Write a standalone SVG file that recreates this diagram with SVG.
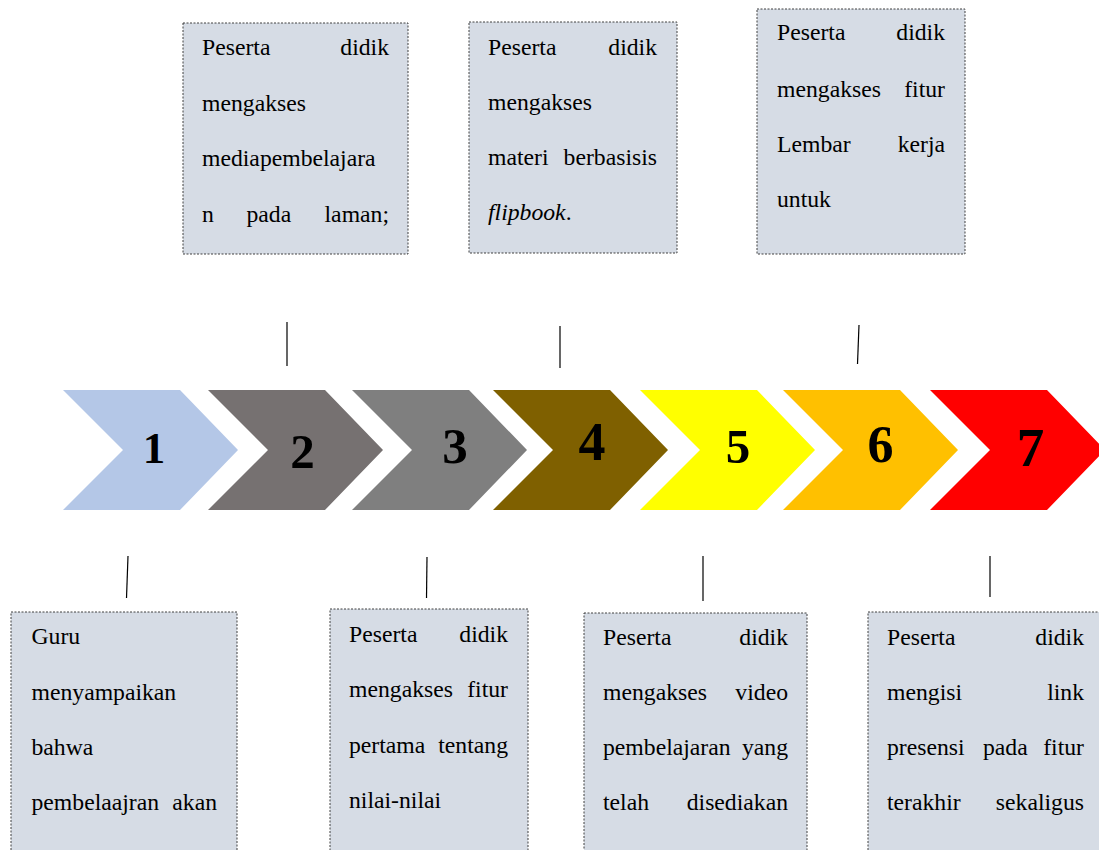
<svg xmlns="http://www.w3.org/2000/svg" width="1099" height="850" viewBox="0 0 1099 850">
<style>
.box{fill:#d6dce5;stroke:#404040;stroke-width:1;stroke-dasharray:2 1.5}
.t{font-family:"Liberation Serif","Times New Roman",serif;font-size:23.7px;fill:#000}
.e{text-anchor:end}
.n{font-family:"Liberation Serif","Times New Roman",serif;font-weight:bold;fill:#000;text-anchor:middle}
.ln{stroke:#000;stroke-width:1.2;fill:none}
</style>
<rect width="1099" height="850" fill="#fff"/>
<g id="connectors">
<line class="ln" x1="287" y1="322" x2="287" y2="366"/>
<line class="ln" x1="560" y1="326" x2="560" y2="368"/>
<line class="ln" x1="859" y1="325" x2="857.5" y2="364"/>
<line class="ln" x1="128" y1="556" x2="126.5" y2="598"/>
<line class="ln" x1="427" y1="557" x2="426.5" y2="598"/>
<line class="ln" x1="703" y1="556" x2="703" y2="601"/>
<line class="ln" x1="990" y1="556" x2="990" y2="597"/>
</g>
<g id="step1"><polygon fill="#b4c7e7" points="63,390 180,390 238,450 180,510 63,510 123,450"/><text class="n" x="154" y="463" font-size="45">1</text></g>
<g id="step2"><polygon fill="#767171" points="208,390 325,390 383,450 325,510 208,510 268,450"/><text class="n" x="302.5" y="468" font-size="49">2</text></g>
<g id="step3"><polygon fill="#7f7f7f" points="352,390 469,390 527,450 469,510 352,510 412,450"/><text class="n" x="455" y="463" font-size="51">3</text></g>
<g id="step4"><polygon fill="#7f6000" points="493,390 610,390 668,450 610,510 493,510 553,450"/><text class="n" x="592" y="460" font-size="54">4</text></g>
<g id="step5"><polygon fill="#ffff00" points="640,390 757,390 815,450 757,510 640,510 700,450"/><text class="n" x="738" y="463" font-size="49">5</text></g>
<g id="step6"><polygon fill="#ffc000" points="783,390 900,390 958,450 900,510 783,510 843,450"/><text class="n" x="880.5" y="462" font-size="52">6</text></g>
<g id="step7"><polygon fill="#ff0000" points="930,390 1047,390 1105,450 1047,510 930,510 990,450"/><text class="n" x="1030.5" y="466" font-size="55">7</text></g>

<g id="box-top1">
<rect class="box" x="183" y="23" width="225" height="231"/>
<text class="t" x="202" y="55">Peserta</text><text class="t e" x="389" y="55">didik</text>
<text class="t" x="202" y="110.5">mengakses</text>
<text class="t" x="202" y="166">mediapembelajara</text>
<text class="t" x="202" y="221.5">n</text><text class="t" x="246.5" y="221.5">pada</text><text class="t e" x="389" y="221.5">laman;</text>
</g>
<g id="box-top2">
<rect class="box" x="469" y="22" width="208" height="231"/>
<text class="t" x="488" y="54.5">Peserta</text><text class="t e" x="657" y="54.5">didik</text>
<text class="t" x="488" y="110">mengakses</text>
<text class="t" x="488" y="165">materi</text><text class="t e" x="657" y="165">berbasisis</text>
<text class="t" x="488" y="220"><tspan font-style="italic">flipbook</tspan>.</text>
</g>
<g id="box-top3">
<rect class="box" x="757" y="9" width="208" height="245"/>
<text class="t" x="777" y="40">Peserta</text><text class="t e" x="945" y="40">didik</text>
<text class="t" x="777" y="96.5">mengakses</text><text class="t e" x="945" y="96.5">fitur</text>
<text class="t" x="777" y="151.5">Lembar</text><text class="t e" x="945" y="151.5">kerja</text>
<text class="t" x="777" y="206.5">untuk</text>
</g>
<g id="box-bot1">
<rect class="box" x="11" y="612" width="226" height="250"/>
<text class="t" x="31.5" y="644">Guru</text>
<text class="t" x="31.5" y="699.5">menyampaikan</text>
<text class="t" x="31.5" y="754.5">bahwa</text>
<text class="t" x="31.5" y="810">pembelaajran</text><text class="t e" x="217" y="810">akan</text>
</g>
<g id="box-bot2">
<rect class="box" x="330" y="609" width="198" height="250"/>
<text class="t" x="349" y="641.5">Peserta</text><text class="t e" x="508" y="641.5">didik</text>
<text class="t" x="349" y="697">mengakses</text><text class="t e" x="508" y="697">fitur</text>
<text class="t" x="349" y="753">pertama</text><text class="t e" x="508" y="753">tentang</text>
<text class="t" x="349" y="808">nilai-nilai</text>
</g>
<g id="box-bot3">
<rect class="box" x="584" y="613" width="223" height="250"/>
<text class="t" x="603" y="645">Peserta</text><text class="t e" x="788" y="645">didik</text>
<text class="t" x="603" y="700">mengakses</text><text class="t e" x="788" y="700">video</text>
<text class="t" x="603" y="755">pembelajaran</text><text class="t e" x="788" y="755">yang</text>
<text class="t" x="603" y="810">telah</text><text class="t e" x="788" y="810">disediakan</text>
</g>
<g id="box-bot4">
<rect class="box" x="868" y="612" width="240" height="250"/>
<text class="t" x="887" y="645">Peserta</text><text class="t e" x="1084" y="645">didik</text>
<text class="t" x="887" y="700">mengisi</text><text class="t e" x="1084" y="700">link</text>
<text class="t" x="887" y="755">presensi</text><text class="t" x="983" y="755">pada</text><text class="t e" x="1084" y="755">fitur</text>
<text class="t" x="887" y="810">terakhir</text><text class="t e" x="1084" y="810">sekaligus</text>
</g>
</svg>
